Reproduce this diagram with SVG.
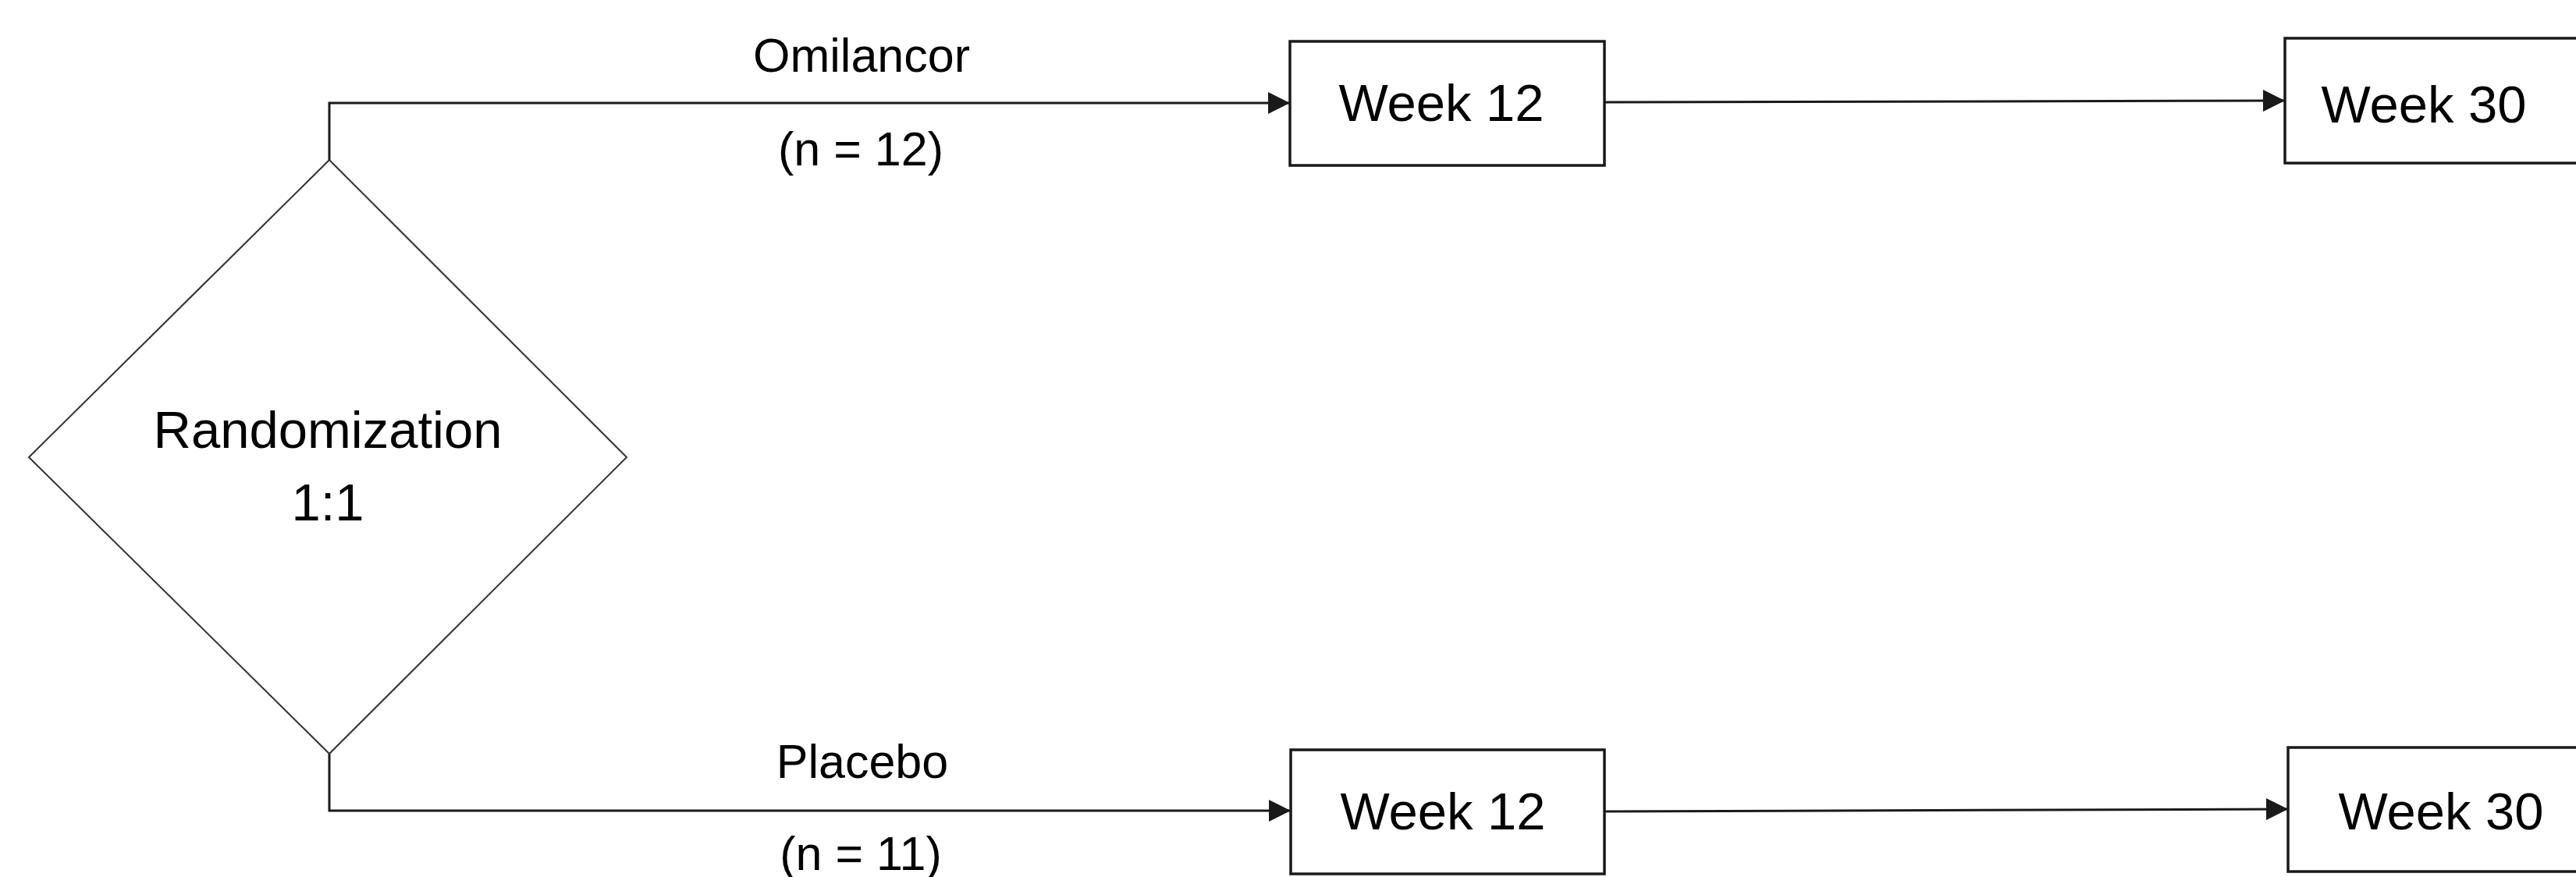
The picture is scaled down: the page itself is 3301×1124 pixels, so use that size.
<svg xmlns="http://www.w3.org/2000/svg" width="3301" height="1124" viewBox="0 0 3301 1124">
<style>
  text { font-family: "Liberation Sans", Arial, sans-serif; fill: #000; text-anchor: middle; }
  .big { font-size: 67px; }
  .lbl { font-size: 61px; }
  .box { fill: #fff; stroke: #1a1a1a; stroke-width: 3.5; }
  .dia { fill: #fff; stroke: #333; stroke-width: 2; }
  .con { fill: none; stroke: #1a1a1a; stroke-width: 3; }
</style>
<defs>
  <marker id="arr" markerUnits="userSpaceOnUse" markerWidth="28" markerHeight="28" viewBox="0 0 28 28" refX="27" refY="14" orient="auto">
    <path d="M0,0 L28,14 L0,28 Z" fill="#1a1a1a"/>
  </marker>
</defs>
<rect width="3301" height="1124" fill="#fff"/>
<g id="connectors">
  <path class="con" d="M422,205 V132 H1652" marker-end="url(#arr)"/>
  <path class="con" d="M422,966 V1039 H1653" marker-end="url(#arr)"/>
  <path class="con" d="M2056,131 L2927,129" marker-end="url(#arr)"/>
  <path class="con" d="M2056,1040 L2931,1037" marker-end="url(#arr)"/>
</g>
<g id="labels">
  <text class="lbl" x="1104" y="92">Omilancor</text>
  <text class="lbl" x="1103" y="212">(n = 12)</text>
  <text class="lbl" x="1105" y="997">Placebo</text>
  <text class="lbl" x="1103" y="1115">(n = 11)</text>
</g>
<g id="randomization">
  <polygon class="dia" points="422,205 803,586 422,966 37,586"/>
  <text class="big" x="420" y="574">Randomization</text>
  <text class="big" x="420" y="667">1:1</text>
</g>
<g id="omilancor-week12">
  <rect class="box" x="1653" y="53" width="403" height="159"/>
  <text class="big" x="1847" y="155">Week 12</text>
</g>
<g id="omilancor-week30">
  <rect class="box" x="2928" y="49" width="420" height="160"/>
  <text class="big" x="3106" y="157">Week 30</text>
</g>
<g id="placebo-week12">
  <rect class="box" x="1654" y="961" width="402" height="159"/>
  <text class="big" x="1849" y="1063">Week 12</text>
</g>
<g id="placebo-week30">
  <rect class="box" x="2932" y="958" width="420" height="159"/>
  <text class="big" x="3128" y="1063">Week 30</text>
</g>
</svg>
